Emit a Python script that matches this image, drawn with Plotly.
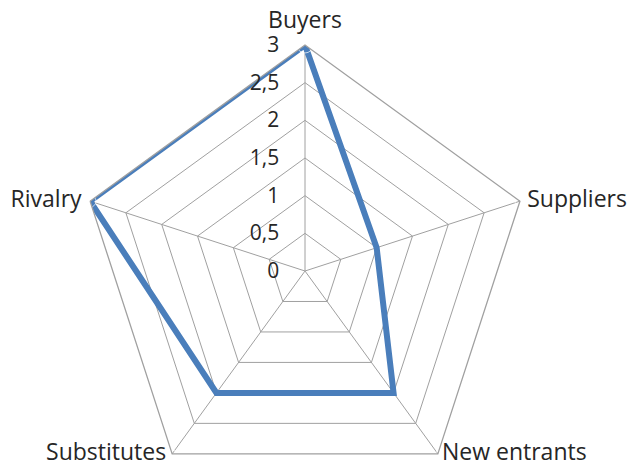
import plotly.graph_objects as go

categories = ["Buyers", "Suppliers", "New entrants", "Substitutes", "Rivalry"]
values = [3, 1, 2, 2, 3]
radial_ticks = [0, 0.5, 1, 1.5, 2, 2.5, 3]
label_positions = ["top center", "middle right", "middle right", "middle left", "middle left"]
label_gaps = [16, 10, 5, 8, 12]

theta = categories + [categories[0]]
r = values + [values[0]]
rmax = max(radial_ticks)

W, H = 630, 500
cx, cy, R = 305, 271, 226

font = dict(family="'Open Sans', sans-serif", size=21, color="#262626")
label_font = dict(family="'Open Sans', sans-serif", size=23, color="#262626")

fig = go.Figure()
fig.add_trace(go.Scatterpolar(
    r=r, theta=theta, mode="lines",
    line=dict(color="#4a7ebb", width=6),
    showlegend=False, hoverinfo="skip",
))
fig.add_trace(go.Scatterpolar(
    r=[rmax] * len(categories), theta=categories, mode="markers+text",
    marker=dict(size=label_gaps, color="rgba(0,0,0,0)"),
    text=categories, textposition=label_positions,
    textfont=label_font, cliponaxis=False,
    showlegend=False, hoverinfo="skip",
))

fig.update_layout(
    width=W, height=H,
    margin=dict(l=0, r=0, t=0, b=0),
    paper_bgcolor="white",
    plot_bgcolor="white",
    separators=",.",
    font=font,
    polar=dict(
        domain=dict(x=[(cx - R) / W, (cx + R) / W],
                    y=[(H - cy - R) / H, (H - cy + R) / H]),
        bgcolor="white",
        gridshape="linear",
        radialaxis=dict(
            range=[0, rmax], tickvals=radial_ticks,
            angle=90, side="counterclockwise",
            showline=False, ticks="outside", ticklen=18,
            tickcolor="rgba(0,0,0,0)", tickangle=90,
            gridcolor="#a0a0a0", gridwidth=1.3,
            tickfont=font,
        ),
        angularaxis=dict(
            direction="clockwise", rotation=90,
            categoryorder="array", categoryarray=categories,
            showline=True, linecolor="#a0a0a0", linewidth=1.3,
            gridcolor="#a0a0a0", gridwidth=1.3,
            ticks="", showticklabels=False,
        ),
    ),
)

fig.write_html("out.html", config={"displayModeBar": False},
               post_script="document.body.style.margin='0';document.body.style.overflow='hidden';")
